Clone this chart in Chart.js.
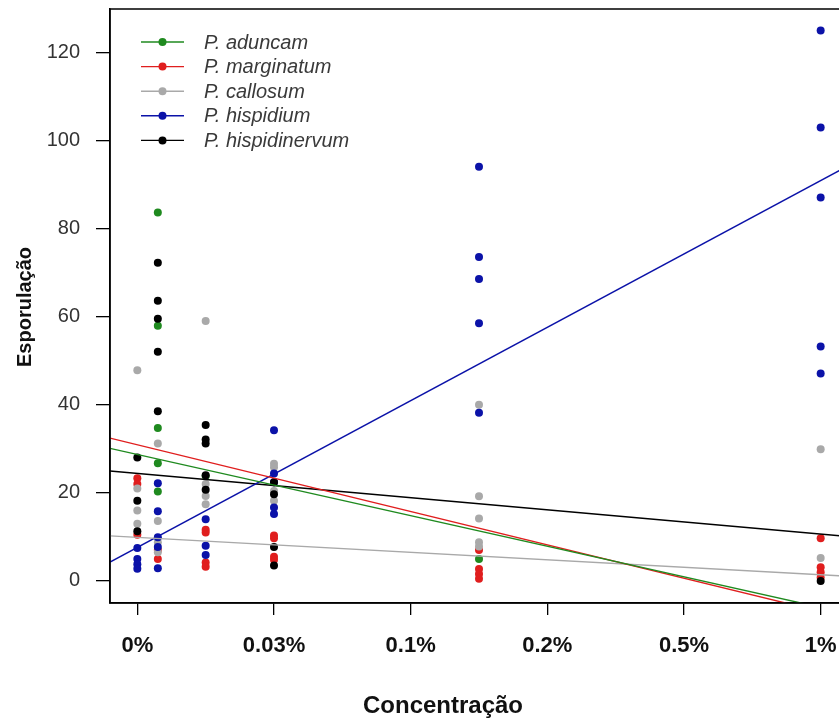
<!DOCTYPE html>
<html>
<head>
<meta charset="utf-8">
<title>Esporulação x Concentração</title>
<script src="https://cdn.jsdelivr.net/npm/chart.js@4.4.1/dist/chart.umd.min.js"></script>
<style>
  html, body { margin: 0; padding: 0; background: #fff; overflow: hidden; }
  #wrap { width: 900px; height: 720px; }
</style>
</head>
<body>
<div id="wrap"><canvas id="chart" width="900" height="720"></canvas></div>
<script>
'use strict';

/* Axis ticks */
const xTickValues = [0, 1, 2, 3, 4, 5];
const xTickLabels = ['0%', '0.03%', '0.1%', '0.2%', '0.5%', '1%'];
const yTickValues = [0, 20, 40, 60, 80, 100, 120];

/* Species (legend order) */
const speciesNames = ['P. aduncam', 'P. marginatum', 'P. callosum', 'P. hispidium', 'P. hispidinervum'];
const speciesColors = ['#1f8a1f', '#e01e1e', '#a9a9a9', '#0b12a8', '#000000'];

const aduncamX = [0.15, 0.15, 0.15, 0.15, 0.15, 0.5, 2.5];
const aduncamY = [83.6, 57.9, 34.7, 26.7, 20.3, 23.8, 5.0];

const marginatumX = [0, 0, 0, 0.15, 0.15, 0.5, 0.5, 0.5, 0.5, 1, 1, 1, 1, 2.5, 2.5, 2.5, 2.5, 5, 5, 5, 5];
const marginatumY = [23.3, 22.0, 10.5, 7.0, 5.0, 11.6, 11.0, 4.2, 3.2, 10.3, 9.7, 5.5, 4.8, 7.0, 2.7, 1.6, 0.5, 9.7, 3.1, 2.0, 0.8];

const callosumX = [0, 0, 0, 0, 0.15, 0.15, 0.15, 0.15, 0.5, 0.5, 0.5, 0.5, 1, 1, 1, 1, 2.5, 2.5, 2.5, 2.5, 2.5, 5, 5];
const callosumY = [47.8, 21.0, 16.0, 13.0, 31.2, 13.6, 8.8, 6.5, 59.0, 22.0, 19.3, 17.4, 26.6, 25.8, 20.4, 18.2, 40.0, 19.2, 14.2, 8.8, 7.8, 29.9, 5.2];

const hispidiumX = [0, 0, 0, 0, 0.15, 0.15, 0.15, 0.15, 0.15, 0.5, 0.5, 0.5, 1, 1, 1, 1, 1, 2.5, 2.5, 2.5, 2.5, 2.5, 5, 5, 5, 5, 5];
const hispidiumY = [7.5, 5.0, 3.8, 2.8, 22.2, 15.8, 9.9, 7.7, 2.9, 14.0, 8.0, 5.9, 34.2, 24.4, 22.4, 16.7, 15.2, 94.0, 73.5, 68.5, 58.5, 38.2, 124.9, 102.9, 87.0, 53.2, 47.1];

const hispidinervumX = [0, 0, 0, 0.15, 0.15, 0.15, 0.15, 0.15, 0.5, 0.5, 0.5, 0.5, 0.5, 1, 1, 1, 1, 5];
const hispidinervumY = [28.0, 18.2, 11.3, 72.2, 63.6, 59.5, 52.0, 38.5, 35.4, 32.1, 31.2, 24.0, 20.7, 22.4, 19.7, 7.7, 3.5, 0.0];

/* Fitted lines (intercept, slope) per species */
const lineIntercepts = [28.7, 30.9, 9.9, 7.6, 24.4];
const lineSlopes = [-6.94, -7.57, -1.7, 16.65, -2.75];

const X_MIN = -0.2;
const X_MAX = 5.2;
const Y_MIN = -5;
const Y_MAX = 129.8;

const seriesX = [aduncamX, marginatumX, callosumX, hispidiumX, hispidinervumX];
const seriesY = [aduncamY, marginatumY, callosumY, hispidiumY, hispidinervumY];

function toPoints(xs, ys) {
  return xs.map((x, i) => ({ x, y: ys[i] }));
}

const datasets = [];

// regression lines, drawn over the points
speciesNames.forEach((name, i) => {
  datasets.push({
    type: 'line',
    label: name + ' (fit)',
    data: [X_MIN, X_MAX].map(x => ({ x, y: lineIntercepts[i] + lineSlopes[i] * x })),
    borderColor: speciesColors[i],
    borderWidth: 1.4,
    pointRadius: 0,
    fill: false,
    order: 0,
  });
});

// points
speciesNames.forEach((name, i) => {
  datasets.push({
    type: 'scatter',
    label: name,
    data: toPoints(seriesX[i], seriesY[i]),
    backgroundColor: speciesColors[i],
    borderColor: speciesColors[i],
    borderWidth: 0,
    pointRadius: 4,
    pointHoverRadius: 4,
    order: 10 - i,
  });
});

/* R-like box, legend and axis titles */
const decorPlugin = {
  id: 'decor',
  afterDatasetsDraw(chart) {
    const { ctx, chartArea } = chart;
    ctx.save();
    ctx.strokeStyle = '#000';
    ctx.lineWidth = 1.5;
    ctx.strokeRect(chartArea.left, chartArea.top, chartArea.right - chartArea.left, chartArea.bottom - chartArea.top);

    // legend
    const lx0 = 141, lx1 = 184, tx = 204;
    speciesNames.forEach((name, i) => {
      const y = 42 + i * 24.6;
      ctx.strokeStyle = speciesColors[i];
      ctx.lineWidth = 1.4;
      ctx.beginPath();
      ctx.moveTo(lx0, y);
      ctx.lineTo(lx1, y);
      ctx.stroke();
      ctx.fillStyle = speciesColors[i];
      ctx.beginPath();
      ctx.arc((lx0 + lx1) / 2, y, 4, 0, Math.PI * 2);
      ctx.fill();
      ctx.fillStyle = '#3a3a3a';
      ctx.font = 'italic 20px "Liberation Sans", Arial, sans-serif';
      ctx.textAlign = 'left';
      ctx.textBaseline = 'middle';
      ctx.fillText(name, tx, y + 1);
    });

    // axis titles
    ctx.fillStyle = '#111';
    ctx.font = 'bold 24px "Liberation Sans", Arial, sans-serif';
    ctx.textAlign = 'center';
    ctx.textBaseline = 'middle';
    ctx.fillText('Concentração', 443, 706);

    ctx.translate(25, 307);
    ctx.rotate(-Math.PI / 2);
    ctx.font = 'bold 20px "Liberation Sans", Arial, sans-serif';
    ctx.fillText('Esporulação', 0, 0);
    ctx.restore();
  },
};

function initChart() {
  const ctx = document.getElementById('chart').getContext('2d');
  new Chart(ctx, {
    data: { datasets },
    options: {
      responsive: false,
      animation: false,
      devicePixelRatio: 1,
      layout: { padding: { top: 9, left: 0, right: 52, bottom: 0 } },
      plugins: {
        legend: { display: false },
        tooltip: { enabled: false },
      },
      scales: {
        x: {
          type: 'linear',
          min: X_MIN,
          max: X_MAX,
          afterBuildTicks: (scale) => { scale.ticks = xTickValues.map(v => ({ value: v })); },
          afterFit: (scale) => {
            scale.height = 117;
            scale.paddingLeft = 0;
            scale.paddingRight = 0;
          },
          grid: { drawOnChartArea: false, color: '#000', tickLength: 12, lineWidth: 1.3 },
          border: { color: '#000', width: 1.5 },
          ticks: {
            padding: 18,
            maxRotation: 0,
            autoSkip: false,
            color: '#111',
            font: { family: '"Liberation Sans", Arial, sans-serif', size: 22, weight: 'bold' },
            callback: (value) => {
              const idx = xTickValues.indexOf(value);
              return idx >= 0 ? xTickLabels[idx] : '';
            },
          },
        },
        y: {
          type: 'linear',
          min: Y_MIN,
          max: Y_MAX,
          afterBuildTicks: (scale) => { scale.ticks = yTickValues.map(v => ({ value: v })); },
          afterFit: (scale) => {
            scale.width = 110;
            scale.paddingTop = 0;
            scale.paddingBottom = 0;
          },
          grid: { drawOnChartArea: false, color: '#000', tickLength: 14, lineWidth: 1.3 },
          border: { color: '#000', width: 1.5 },
          ticks: {
            padding: 16,
            color: '#333',
            font: { family: '"Liberation Sans", Arial, sans-serif', size: 20 },
          },
        },
      },
    },
    plugins: [decorPlugin],
  });
}

document.addEventListener('DOMContentLoaded', initChart);
</script>
</body>
</html>
